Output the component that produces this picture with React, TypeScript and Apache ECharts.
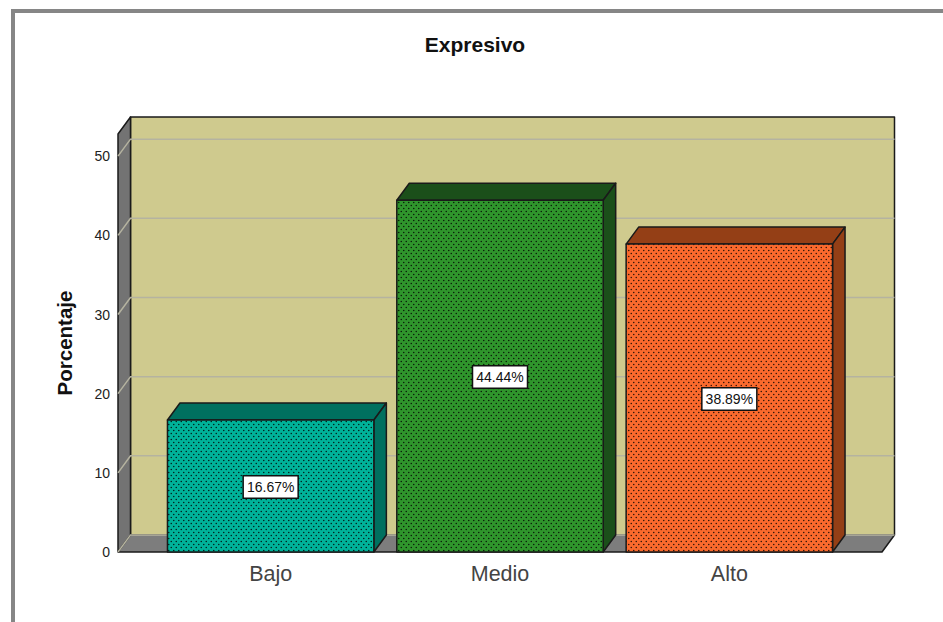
import React, { useEffect, useRef } from "react";
import * as echarts from "echarts";

const chartTitle = "Expresivo";
const yAxisName = "Porcentaje";
const categories = ["Bajo", "Medio", "Alto"];
const percentages = [16.67, 44.44, 38.89];
const yTicks = [0, 10, 20, 30, 40, 50];
const faceColors = ["#00b39a", "#2f952c", "#fb6a2d"];
const topColors = ["#00705f", "#1b4f1a", "#943f16"];

const DX = 12.5;
const DY = 17;
const AXIS_OFFSET = 38;

function dotTile(color: string) {
  const c = document.createElement("canvas");
  c.width = 5;
  c.height = 6;
  const g = c.getContext("2d")!;
  g.fillStyle = color;
  g.fillRect(0, 0, 5, 6);
  g.fillStyle = "rgba(0,0,0,0.85)";
  g.beginPath();
  g.arc(1.25, 1.5, 0.75, 0, Math.PI * 2);
  g.fill();
  g.beginPath();
  g.arc(3.75, 4.5, 0.75, 0, Math.PI * 2);
  g.fill();
  return c;
}

export default function App() {
  const ref = useRef<HTMLDivElement>(null);
  useEffect(() => {
    const chart = echarts.init(ref.current!, null, { renderer: "svg" });
    const ink = "#1a1a1a";
    chart.setOption({
      animation: false,
      backgroundColor: "#ffffff",
      title: {
        text: chartTitle,
        left: 470,
        top: 29,
        textAlign: "center",
        textStyle: { fontFamily: "Liberation Sans", fontSize: 21, fontWeight: "bold", color: "#111" },
      },
      graphic: [
        {
          type: "polyline",
          silent: true,
          shape: { points: [[13, 622], [13, 11], [943, 11]] },
          style: { stroke: "#868686", lineWidth: 4, fill: "none" },
        },
      ],
      grid: { left: 156, width: 688, top: 134, height: 418 },
      xAxis: {
        type: "category",
        data: categories,
        axisLine: { show: false },
        axisTick: { show: false },
        axisLabel: { fontFamily: "Liberation Sans", fontSize: 21.5, color: "#444", margin: 11 },
      },
      yAxis: {
        type: "value",
        min: 0,
        max: 52.8,
        interval: 10,
        offset: AXIS_OFFSET,
        name: yAxisName,
        nameLocation: "middle",
        nameGap: 43,
        nameRotate: 90,
        nameTextStyle: { fontFamily: "Liberation Sans", fontSize: 20.5, fontWeight: "bold", color: "#111" },
        axisLine: { show: false },
        axisTick: { show: false },
        splitLine: { show: false },
        axisLabel: {
          fontFamily: "Liberation Sans",
          fontSize: 14,
          color: "#222",
          margin: 8,
          formatter: (v: number) => (yTicks.includes(v) ? String(v) : ""),
        },
      },
      series: [
        {
          type: "custom",
          silent: true,
          z: 1,
          clip: false,
          data: [[0, 0]],
          renderItem: (params: any) => {
            const cs = params.coordSys;
            const l = cs.x - AXIS_OFFSET;
            const r = cs.x + cs.width + AXIS_OFFSET;
            const t = cs.y;
            const b = cs.y + cs.height;
            const line = { stroke: ink, lineWidth: 1.5, lineJoin: "round" };
            return {
              type: "group",
              children: [
                {
                  type: "polygon",
                  shape: { points: [[l + DX, t - DY], [r + DX, t - DY], [r + DX, b - DY], [l + DX, b - DY]] },
                  style: { fill: "#cfca8e", ...line },
                },
                {
                  type: "polygon",
                  shape: { points: [[l, b], [l + DX, b - DY], [r + DX, b - DY], [r, b]] },
                  style: { fill: "#7d7d7d", stroke: "none" },
                },
                {
                  type: "polygon",
                  shape: { points: [[l, t], [l + DX, t - DY], [l + DX, b - DY], [l, b]] },
                  style: { fill: "#737373", ...line },
                },
                {
                  type: "polyline",
                  shape: { points: [[l, b], [r, b], [r + DX, b - DY]] },
                  style: { fill: "none", ...line },
                },
              ],
            };
          },
        },
        {
          type: "custom",
          silent: true,
          z: 2,
          clip: false,
          data: yTicks.map((v) => [0, v]),
          renderItem: (params: any, api: any) => {
            const cs = params.coordSys;
            const l = cs.x - AXIS_OFFSET;
            const r = cs.x + cs.width + AXIS_OFFSET;
            const y = api.coord([0, api.value(1)])[1];
            return {
              type: "polyline",
              shape: { points: [[l, y], [l + DX, y - DY], [r + DX, y - DY]] },
              style: { fill: "none", stroke: "#b5b3a0", lineWidth: 1.5 },
            };
          },
        },
        {
          type: "custom",
          silent: true,
          z: 3,
          clip: false,
          encode: { x: 0, y: 1 },
          data: percentages.map((v, i) => [i, v]),
          renderItem: (params: any, api: any) => {
            const i = api.value(0);
            const v = api.value(1);
            const [cx, top] = api.coord([i, v]);
            const base = api.coord([i, 0])[1];
            const w = api.size([1, 0])[0] * 0.9;
            const x0 = cx - w / 2;
            const x1 = cx + w / 2;
            const line = { stroke: ink, lineWidth: 1.5, lineJoin: "round" };
            return {
              type: "group",
              children: [
                {
                  type: "polygon",
                  shape: { points: [[x0, top], [x0 + DX, top - DY], [x1 + DX, top - DY], [x1, top]] },
                  style: { fill: topColors[i], ...line },
                },
                {
                  type: "polygon",
                  shape: { points: [[x1, top], [x1 + DX, top - DY], [x1 + DX, base - DY], [x1, base]] },
                  style: { fill: topColors[i], ...line },
                },
                {
                  type: "rect",
                  shape: { x: x0, y: top, width: w, height: base - top },
                  style: { fill: { image: dotTile(faceColors[i]), repeat: "repeat" }, ...line },
                },
                {
                  type: "text",
                  x: cx,
                  y: (top + base) / 2 + 1,
                  style: {
                    text: v.toFixed(2) + "%",
                    align: "center",
                    verticalAlign: "middle",
                    fontFamily: "Liberation Sans",
                    fontSize: 14,
                    fill: "#111",
                    backgroundColor: "#fff",
                    borderColor: "#111",
                    borderWidth: 1.5,
                    padding: [4, 3, 3, 3],
                  },
                },
              ],
            };
          },
        },
      ],
    });
    return () => chart.dispose();
  }, []);
  return <div ref={ref} style={{ position: "absolute", left: 0, top: 0, width: 943, height: 622 }} />;
}
